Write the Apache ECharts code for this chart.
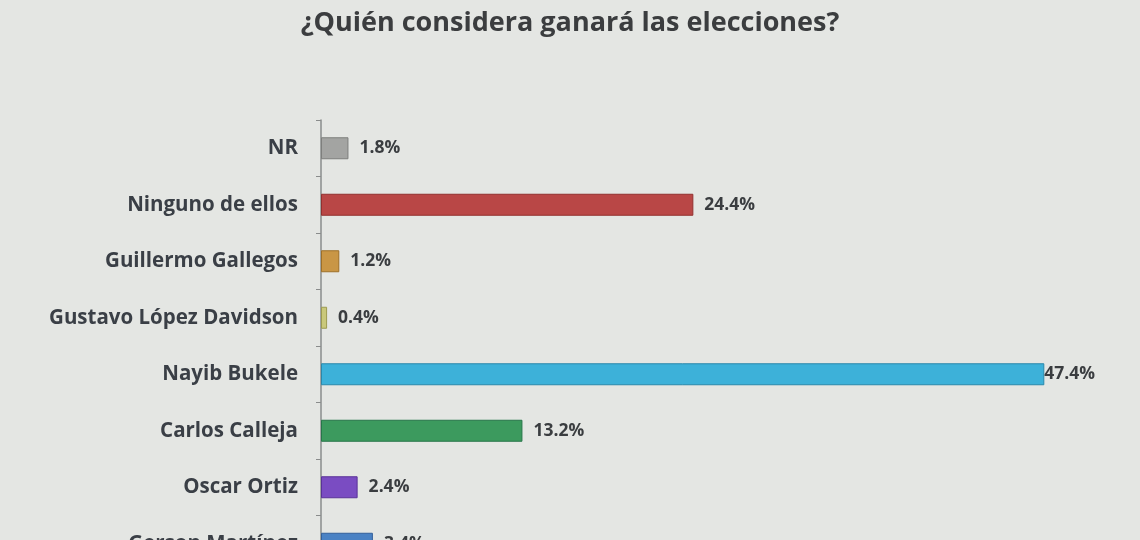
<!DOCTYPE html>
<html>
<head>
<meta charset="utf-8">
<script src="https://cdn.jsdelivr.net/npm/echarts@6/dist/echarts.min.js"></script>
<style>
html,body{margin:0;padding:0;background:#e4e6e3;}
#c{width:1140px;height:540px;}
</style>
</head>
<body>
<div id="c"></div>
<script>
const categories = ["NR","Ninguno de ellos","Guillermo Gallegos","Gustavo López Davidson","Nayib Bukele","Carlos Calleja","Oscar Ortiz","Gerson Martínez"];
const values = [1.8, 24.4, 1.2, 0.4, 47.4, 13.2, 2.4, 3.4];
const colors = ["#a3a4a2","#b94746","#c99645","#c9c87a","#3db1d9","#3c9a5e","#7a4cc2","#4a82c4"];
const borders = ["#7e7f7d","#93302f","#9e7028","#9c9a50","#2a88ab","#27764a","#5a3298","#33609a"];

const chart = echarts.init(document.getElementById('c'));
chart.setOption({
  backgroundColor: '#e4e6e3',
  title: {
    text: '¿Quién considera ganará las elecciones?',
    left: 'center', top: 5,
    textStyle: {fontFamily: 'Open Sans', fontWeight: 'bold', fontSize: 27, color: '#3b3d3f'}
  },
  grid: {left: 321, top: 120, width: 763, height: 452, containLabel: false, outerBoundsMode: 'none'},
  xAxis: {type: 'value', min: 0, max: 50, show: false},
  yAxis: {
    type: 'category', data: categories, inverse: true,
    axisLine: {show: true, lineStyle: {color: '#8a8c8c', width: 1.5}},
    axisTick: {show: true, length: 5, lineStyle: {color: '#8a8c8c'}},
    axisLabel: {margin: 23, fontFamily: 'Open Sans', fontWeight: 'bold', fontSize: 20.5, color: '#3a3f46'}
  },
  series: [{
    type: 'bar',
    barWidth: 22,
    data: values.map((v, i) => ({
      value: v,
      itemStyle: {color: colors[i], borderColor: borders[i], borderWidth: 1},
      label: {distance: v > 40 ? 0 : 11}
    })),
    label: {
      show: true, position: 'right',
      formatter: p => p.value.toFixed(1) + '%',
      fontFamily: 'Open Sans', fontWeight: 'bold', fontSize: 17.5, color: '#3a3d40'
    }
  }]
});
</script>
</body>
</html>
